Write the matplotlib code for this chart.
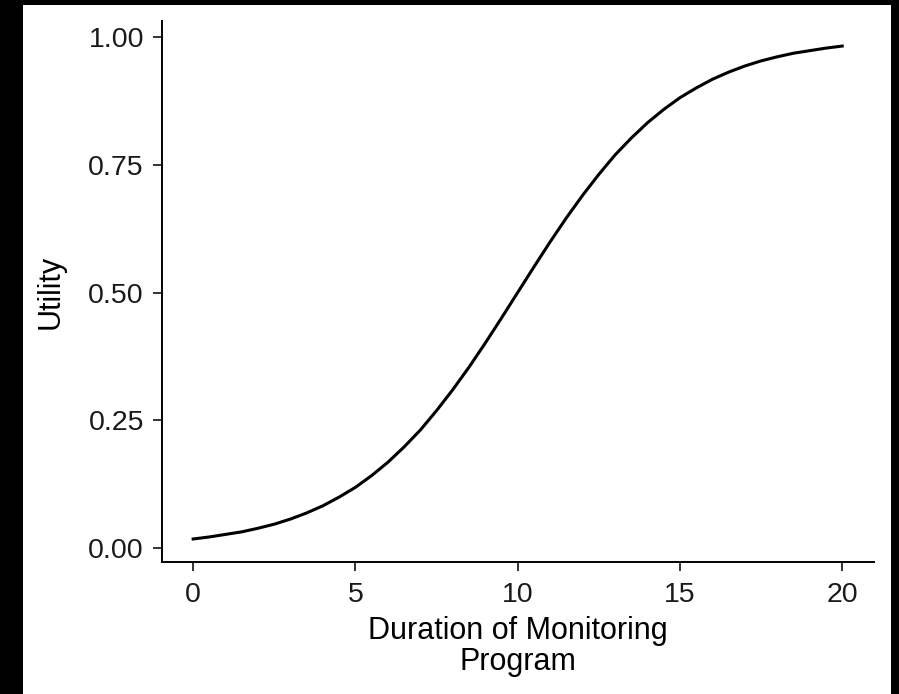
import numpy as np
import matplotlib
matplotlib.use("Agg")
import matplotlib.pyplot as plt
from matplotlib.patches import Rectangle

plt.rcParams['font.family'] = ['Liberation Sans', 'DejaVu Sans']

# valores (curva de utilidad)
duration = [0, 0.5, 1, 1.5, 2, 2.5, 3, 3.5, 4, 4.5, 5, 5.5, 6, 6.5, 7, 7.5, 8, 8.5, 9, 9.5,
            10, 10.5, 11, 11.5, 12, 12.5, 13, 13.5, 14, 14.5, 15, 15.5, 16, 16.5, 17, 17.5,
            18, 18.5, 19, 19.5, 20]
utility = [0.018, 0.022, 0.027, 0.032, 0.039, 0.047, 0.057, 0.069, 0.083, 0.100, 0.119,
           0.142, 0.168, 0.198, 0.231, 0.269, 0.310, 0.354, 0.401, 0.450, 0.500, 0.550,
           0.599, 0.646, 0.690, 0.731, 0.769, 0.802, 0.832, 0.858, 0.881, 0.900, 0.917,
           0.931, 0.943, 0.953, 0.961, 0.968, 0.973, 0.978, 0.982]
xticks = [0, 5, 10, 15, 20]
yticks = [0.0, 0.25, 0.5, 0.75, 1.0]
ytick_labels = ['0.00', '0.25', '0.50', '0.75', '1.00']

fig = plt.figure(figsize=(8.99, 6.94), dpi=100)
fig.patch.set_facecolor('black')
# panel blanco dentro del marco negro
fig.patches.append(Rectangle((23/899, 0), (891-23)/899, 1-5/694,
                             transform=fig.transFigure, facecolor='white',
                             edgecolor='none', zorder=-1))

ax = fig.add_axes([162/899, 1-562/694, (874-162)/899, (562-21)/694])
ax.set_facecolor('white')
ax.plot(duration, utility, color='black', lw=2.2)

ax.set_xlim(-0.96, 20.98)
ax.set_ylim(-0.027, 1.031)
ax.set_xticks(xticks)
ax.set_yticks(yticks)
ax.set_yticklabels(ytick_labels)

for s in ['top', 'right']:
    ax.spines[s].set_visible(False)
for s in ['left', 'bottom']:
    ax.spines[s].set_linewidth(1.4)
    ax.spines[s].set_color('black')

ax.tick_params(axis='both', length=6.5, width=1.4, color='#333333',
               labelsize=20.5, labelcolor='#1a1a1a')
ax.tick_params(axis='x', pad=8)
ax.tick_params(axis='y', pad=6.5)

ax.set_xlabel('Duration of Monitoring\nProgram', fontsize=22, labelpad=6,
              linespacing=1.04)
ax.set_ylabel('Utility', fontsize=22, labelpad=16)

fig.savefig('out.png', dpi=100, facecolor=fig.get_facecolor())
